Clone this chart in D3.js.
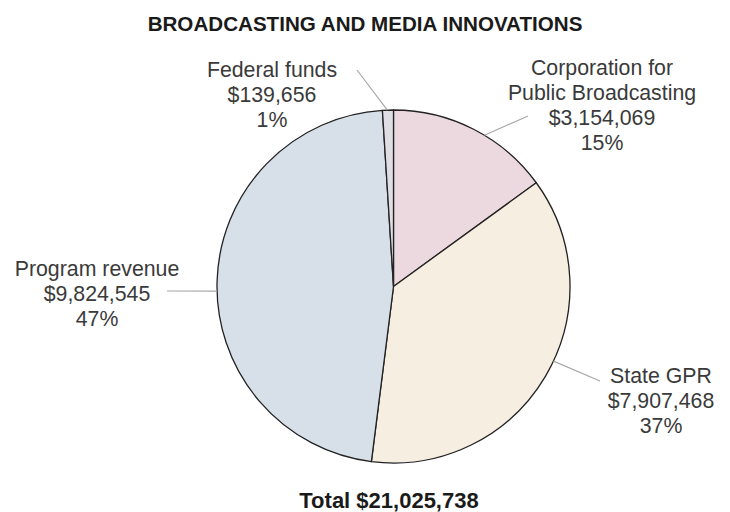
<!DOCTYPE html>
<html>
<head>
<meta charset="utf-8">
<script src="https://cdn.jsdelivr.net/npm/d3@7"></script>
<style>
  body { margin: 0; background: #fff; }
  text { font-family: "Liberation Sans", Arial, sans-serif; }
</style>
</head>
<body>
<script>
// values
var categories = ['Corporation for Public Broadcasting', 'State GPR', 'Program revenue', 'Federal funds']
var labelLines = [['Corporation for', 'Public Broadcasting'], ['State GPR'], ['Program revenue'], ['Federal funds']]
var values = [3154069, 7907468, 9824545, 139656]
// the slices are drawn from the rounded percentages shown on the chart
var percents = [15, 37, 47, 1]
var colors = ['#ecd8df', '#f6eee0', '#d7e0e8', '#e0dee5']

// where each label sits and where its leader line touches the pie
var labelLayout = [
  { x: 602, y: 75, angle: 31, end: [528, 116] },
  { x: 661, y: 383, angle: 115, end: [600, 381] },
  { x: 97, y: 276, angle: 268.5, end: [167, 291] },
  { x: 272, y: 77, angle: 358, end: [357, 70] }
]

var width = 730, height = 512
var cx = 393.5, cy = 286.5, radius = 176.5
var lineGap = 25

var money = d3.format('$,')

var svg = d3.select('body').append('svg')
  .attr('width', width)
  .attr('height', height)

svg.append('text')
  .attr('x', 365)
  .attr('y', 31)
  .attr('text-anchor', 'middle')
  .style('font-size', '20.6px')
  .style('font-weight', 'bold')
  .style('fill', '#1a1a1a')
  .text('BROADCASTING AND MEDIA INNOVATIONS')

var pie = d3.pie().sort(null).value(function(d){ return d })
var arc = d3.arc().innerRadius(0).outerRadius(radius)

var g = svg.append('g').attr('transform', 'translate(' + cx + ',' + cy + ')')

g.selectAll('.slice').data(pie(percents)).enter().append('path')
  .attr('class', 'slice')
  .attr('d', arc)
  .style('fill', function(d, i){ return colors[i] })
  .style('stroke', '#222')
  .style('stroke-width', 1.3)
  .style('stroke-linejoin', 'round')

// leader lines
svg.selectAll('.leader').data(labelLayout).enter().append('line')
  .attr('class', 'leader')
  .attr('x1', function(d){ return cx + radius * Math.sin(d.angle * Math.PI / 180) })
  .attr('y1', function(d){ return cy - radius * Math.cos(d.angle * Math.PI / 180) })
  .attr('x2', function(d){ return d.end[0] })
  .attr('y2', function(d){ return d.end[1] })
  .style('stroke', '#a8a8a8')
  .style('stroke-width', 1.2)

// labels
categories.forEach(function(c, i){
  var lines = labelLines[i].concat([money(values[i]), percents[i] + '%'])
  var pos = labelLayout[i]
  var t = svg.append('text')
    .attr('text-anchor', 'middle')
    .style('font-size', '21.3px')
    .style('fill', '#3a3a3a')
  lines.forEach(function(l, j){
    t.append('tspan')
      .attr('x', pos.x)
      .attr('y', pos.y + j * lineGap)
      .text(l)
  })
})

svg.append('text')
  .attr('x', 389)
  .attr('y', 508)
  .attr('text-anchor', 'middle')
  .style('font-size', '22px')
  .style('font-weight', 'bold')
  .style('fill', '#1a1a1a')
  .text('Total ' + money(d3.sum(values)))
</script>
</body>
</html>
